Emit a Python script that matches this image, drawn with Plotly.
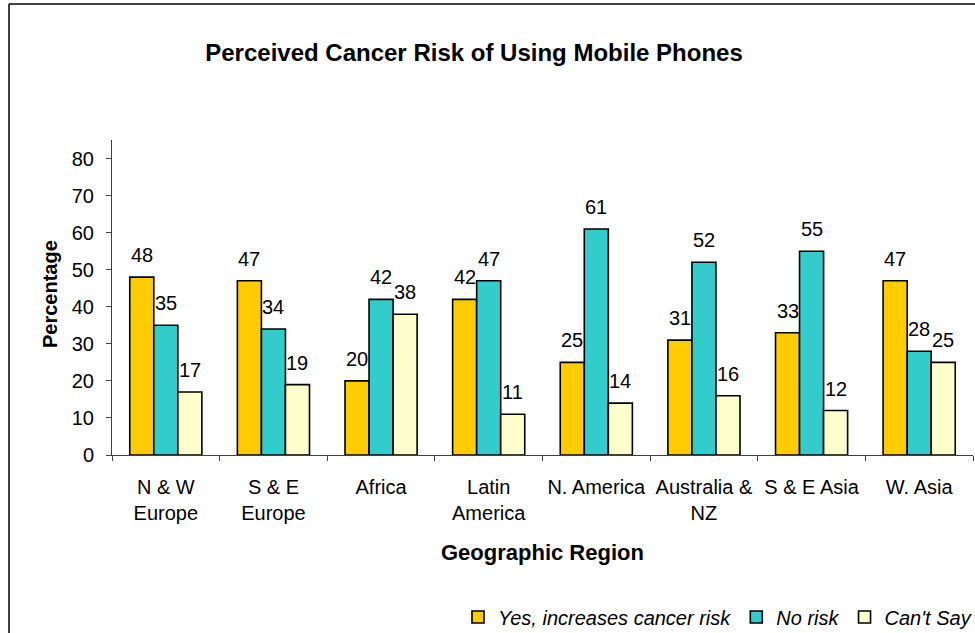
import plotly.graph_objects as go

# ---- data ----
regions = ["N & W<br>Europe", "S & E<br>Europe", "Africa", "Latin<br>America",
           "N. America", "Australia &<br>NZ", "S & E Asia", "W. Asia"]
yes_risk = [48, 47, 20, 42, 25, 31, 33, 47]
no_risk = [35, 34, 42, 47, 61, 52, 55, 28]
cant_say = [17, 19, 38, 11, 14, 16, 12, 25]
series_names = ["Yes, increases cancer risk", "No risk", "Can't Say"]
series_values = [yes_risk, no_risk, cant_say]
y_ticks = [0, 10, 20, 30, 40, 50, 60, 70, 80]

# ---- styling / layout constants ----
colors = ["#FFCC00", "#33CCCC", "#FFFFCC"]
W, H = 975, 633
ML, MR, MT, MB = 112, 2, 140, 178
BARGAP = 0.33
FONT = "Liberation Sans, Arial, sans-serif"
plot_w = W - ML - MR
plot_h = H - MT - MB
bar_px = plot_w / len(regions) * (1 - BARGAP) / len(series_values)

fig = go.Figure()
for name, vals, col in zip(series_names, series_values, colors):
    fig.add_trace(go.Bar(
        x=regions, y=vals, name=name,
        marker=dict(color=col, line=dict(color="black", width=1.6)),
    ))

annotations = []
for si, vals in enumerate(series_values):
    shift = (si - (len(series_values) - 1) / 2) * bar_px
    for r, v in zip(regions, vals):
        annotations.append(dict(
            x=r, y=v, xref="x", yref="y", text=f"{v:.0f}", showarrow=False,
            xshift=shift, yshift=22, yanchor="middle",
            font=dict(family=FONT, size=20, color="black")))

def px_to_paper_x(px):
    return (px - ML) / plot_w

def px_to_paper_y(py):
    return (H - MB - py) / plot_h

# axis titles
annotations.append(dict(
    text="<b>Geographic Region</b>", x=0.5, y=px_to_paper_y(552),
    xref="paper", yref="paper", showarrow=False, xanchor="center", yanchor="middle",
    font=dict(family=FONT, size=22, color="black")))
annotations.append(dict(
    text="<b>Percentage</b>", x=px_to_paper_x(50), y=px_to_paper_y(294),
    xref="paper", yref="paper", showarrow=False, textangle=-90,
    xanchor="center", yanchor="middle",
    font=dict(family=FONT, size=20, color="black")))

frame = dict(xref="paper", yref="paper", line=dict(color="black", width=1.5), layer="below")

fig.update_layout(
    width=W, height=H,
    margin=dict(l=ML, r=MR, t=MT, b=MB, autoexpand=False),
    paper_bgcolor="white", plot_bgcolor="white",
    barmode="group", bargap=BARGAP, bargroupgap=0,
    title=dict(text="<b>Perceived Cancer Risk of Using Mobile Phones</b>",
               xref="paper", x=px_to_paper_x(474), xanchor="center",
               yref="container", y=1 - 53 / H, yanchor="middle",
               font=dict(family=FONT, size=24, color="black")),
    font=dict(family=FONT, size=20, color="black"),
    showlegend=True,
    legend=dict(orientation="h", x=px_to_paper_x(977), xanchor="right",
                y=px_to_paper_y(617), yanchor="middle",
                font=dict(family=FONT, size=20, color="black", style="italic"),
                bgcolor="rgba(0,0,0,0)", itemwidth=30, traceorder="normal"),
    annotations=annotations,
    shapes=[
        dict(type="line", x0=px_to_paper_x(9), x1=px_to_paper_x(9),
             y0=px_to_paper_y(H + 5), y1=px_to_paper_y(4), **frame),
        dict(type="line", x0=px_to_paper_x(9), x1=px_to_paper_x(W + 5),
             y0=px_to_paper_y(4), y1=px_to_paper_y(4), **frame),
    ],
)

fig.update_xaxes(
    type="category", showline=True, linecolor="#404040", linewidth=1,
    ticks="outside", tickson="boundaries", ticklen=5, tickcolor="#404040",
    showgrid=False, tickfont=dict(family=FONT, size=20, color="black"),
    tickangle=0, ticklabelstandoff=14,
)
fig.update_yaxes(
    range=[0, 85], tickvals=y_ticks, showline=True, linecolor="#404040",
    linewidth=1, ticks="outside", ticklen=5, tickcolor="#404040",
    showgrid=False, zeroline=False,
    tickfont=dict(family=FONT, size=20, color="black"), ticklabelstandoff=8,
)

fig.write_html("out.html")
